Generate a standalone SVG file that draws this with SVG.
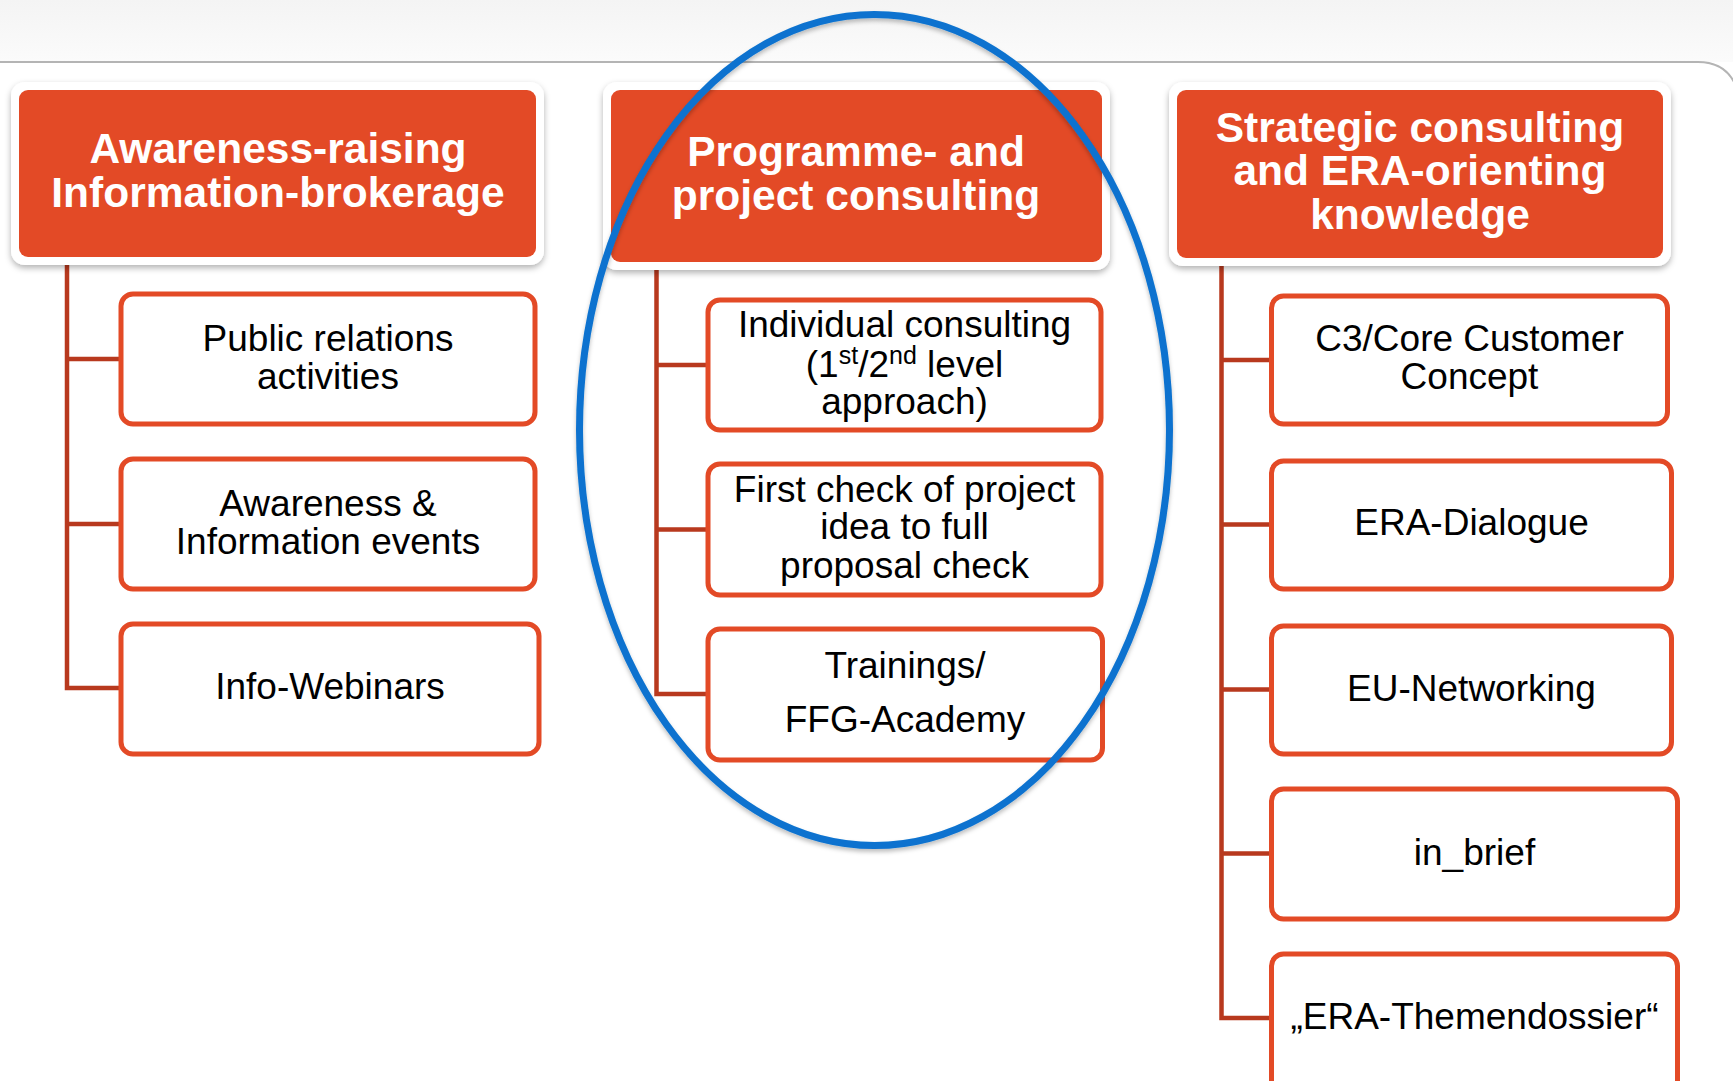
<svg xmlns="http://www.w3.org/2000/svg" width="1733" height="1081" viewBox="0 0 1733 1081">
<style>
.frame{fill:#ffffff;}
.head{fill:#E34A26;}
.htxt{font-family:"Liberation Sans",Arial,sans-serif;font-weight:bold;font-size:42.5px;fill:#ffffff;text-anchor:middle;}
.box{fill:#ffffff;stroke:#E34A26;stroke-width:5;}
.btxt{font-family:"Liberation Sans",Arial,sans-serif;font-size:37px;fill:#000000;text-anchor:middle;}
.conn{fill:none;stroke:#B8391E;stroke-width:4.5;}
</style>
<defs>
<linearGradient id="topbg" x1="0" y1="0" x2="0" y2="1">
<stop offset="0" stop-color="#f4f4f4"/>
<stop offset="1" stop-color="#fbfbfb"/>
</linearGradient>
<filter id="sh" x="-10%" y="-10%" width="120%" height="130%">
<feDropShadow dx="0" dy="3" stdDeviation="3" flood-color="#000" flood-opacity="0.3"/>
</filter>
<filter id="esh" x="-10%" y="-10%" width="120%" height="120%">
<feDropShadow dx="0" dy="3" stdDeviation="2" flood-color="#000" flood-opacity="0.25"/>
</filter>
</defs>
<rect x="0" y="0" width="1733" height="1081" fill="#ffffff"/>
<rect x="0" y="0" width="1733" height="62" fill="url(#topbg)"/>
<path d="M0,62 H1698 Q1733,62 1740,100" fill="none" stroke="#b4b4b4" stroke-width="2"/>

<g id="connectors">
<path class="conn" d="M67,258 V688 H119 M67,359 H119 M67,524 H119"/>
<path class="conn" d="M656.5,262 V694 H706 M656.5,365 H706 M656.5,529.5 H706"/>
<path class="conn" d="M1221.5,258 V1018 H1270 M1221.5,360 H1270 M1221.5,524.5 H1270 M1221.5,689.5 H1270 M1221.5,853.5 H1270"/>
</g>

<g id="h1">
<rect class="frame" x="11" y="82" width="533" height="183" rx="14" filter="url(#sh)"/>
<rect class="head" x="19" y="90" width="517" height="167" rx="9"/>
<text class="htxt" x="278" y="163">Awareness-raising</text>
<text class="htxt" x="278" y="206.5">Information-brokerage</text>
</g>
<g id="h2">
<rect class="frame" x="603" y="82" width="507" height="188" rx="14" filter="url(#sh)"/>
<rect class="head" x="611" y="90" width="491" height="172" rx="9"/>
<text class="htxt" x="856" y="165.5">Programme- and</text>
<text class="htxt" x="856" y="210">project consulting</text>
</g>
<g id="h3">
<rect class="frame" x="1169" y="82" width="502" height="184" rx="14" filter="url(#sh)"/>
<rect class="head" x="1177" y="90" width="486" height="168" rx="9"/>
<text class="htxt" x="1420" y="141.5">Strategic consulting</text>
<text class="htxt" x="1420" y="185">and ERA-orienting</text>
<text class="htxt" x="1420" y="229">knowledge</text>
</g>

<g id="l1">
<rect class="box" x="121" y="294" width="414" height="130" rx="12"/>
<text class="btxt" x="328" y="351">Public relations</text>
<text class="btxt" x="328" y="389">activities</text>
</g>
<g id="l2">
<rect class="box" x="121" y="459" width="414" height="130" rx="12"/>
<text class="btxt" x="328" y="515.5">Awareness &amp;</text>
<text class="btxt" x="328" y="554">Information events</text>
</g>
<g id="l3">
<rect class="box" x="121" y="624" width="418" height="130" rx="12"/>
<text class="btxt" x="330" y="699">Info-Webinars</text>
</g>

<g id="m1">
<rect class="box" x="708" y="300" width="393" height="130" rx="12"/>
<text class="btxt" x="904.5" y="337">Individual consulting</text>
<text class="btxt" x="904.5" y="376.5">(1<tspan font-size="25" dy="-13">st</tspan><tspan dy="13">/2</tspan><tspan font-size="25" dy="-13">nd</tspan><tspan dy="13"> level</tspan></text>
<text class="btxt" x="904.5" y="414">approach)</text>
</g>
<g id="m2">
<rect class="box" x="708" y="464" width="393" height="131" rx="12"/>
<text class="btxt" x="904.5" y="501.5">First check of project</text>
<text class="btxt" x="904.5" y="539">idea to full</text>
<text class="btxt" x="904.5" y="578">proposal check</text>
</g>
<g id="m3">
<rect class="box" x="708" y="629" width="394.5" height="131" rx="12"/>
<text class="btxt" x="905" y="677.5">Trainings/</text>
<text class="btxt" x="905" y="731.5">FFG-Academy</text>
</g>

<g id="r1">
<rect class="box" x="1271.5" y="296" width="396" height="128" rx="12"/>
<text class="btxt" x="1469.5" y="351">C3/Core Customer</text>
<text class="btxt" x="1469.5" y="389">Concept</text>
</g>
<g id="r2">
<rect class="box" x="1271.5" y="461" width="400" height="128" rx="12"/>
<text class="btxt" x="1471.5" y="535">ERA-Dialogue</text>
</g>
<g id="r3">
<rect class="box" x="1271.5" y="626" width="400" height="128" rx="12"/>
<text class="btxt" x="1471.5" y="700.5">EU-Networking</text>
</g>
<g id="r4">
<rect class="box" x="1271.5" y="789" width="406" height="130" rx="12"/>
<text class="btxt" x="1474.5" y="865">in_brief</text>
</g>
<g id="r5">
<rect class="box" x="1271.5" y="954" width="406" height="150" rx="12"/>
<text class="btxt" x="1474.5" y="1029">„ERA-Themendossier“</text>
</g>

<g id="highlight">
<ellipse cx="874.5" cy="430" rx="295" ry="415.5" fill="none" stroke="#0A72CF" stroke-width="7" filter="url(#esh)"/>
</g>
</svg>
